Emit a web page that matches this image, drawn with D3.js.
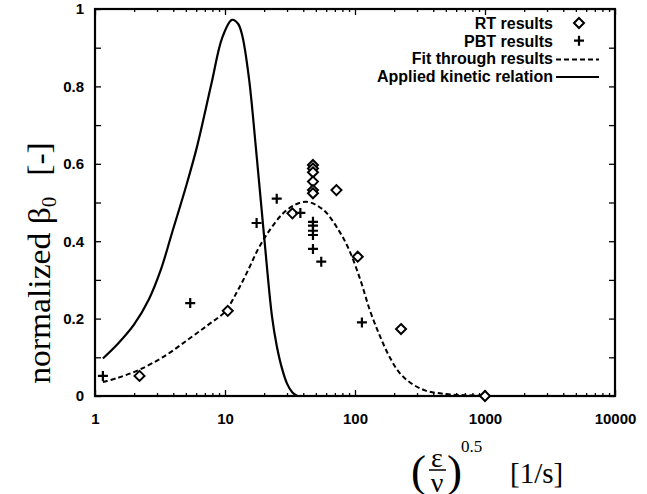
<!DOCTYPE html>
<html>
<head>
<meta charset="utf-8">
<script src="https://cdn.jsdelivr.net/npm/d3@7"></script>
<style>
  body { margin: 0; background: #fff; }
  svg { display: block; }
  .tick text { font-family: "Liberation Sans", Arial, sans-serif; font-weight: bold; font-size: 15px; }
</style>
</head>
<body>
<div id="chart"></div>
<script>
// RT results (diamonds)
const rtX = [2.2, 10.5, 33, 47.5, 47.5, 47.5, 47.5, 47.5, 47.5, 72, 105, 226, 1000];
const rtY = [0.052, 0.22, 0.472, 0.597, 0.588, 0.578, 0.554, 0.532, 0.524, 0.532, 0.36, 0.173, 0.0];

// PBT results (crosses)
const pbtX = [1.15, 5.4, 17.5, 25, 38, 47.5, 47.5, 47.5, 47.5, 47.5, 55, 113];
const pbtY = [0.052, 0.24, 0.447, 0.51, 0.473, 0.45, 0.44, 0.427, 0.416, 0.38, 0.347, 0.19];

// Fit through results (dashed)
const fitX = [1.15, 1.5, 2.2, 3.5, 5.3, 7.5, 10, 12.5, 15, 18, 22, 28, 35, 42, 50, 60, 75, 90, 110, 130, 155, 185, 220, 270, 350, 500, 700, 1000];
const fitY = [0.036, 0.047, 0.068, 0.105, 0.148, 0.185, 0.218, 0.272, 0.324, 0.38, 0.428, 0.472, 0.495, 0.502, 0.494, 0.474, 0.428, 0.378, 0.3, 0.222, 0.156, 0.1, 0.06, 0.033, 0.014, 0.005, 0.002, 0.001];

// Applied kinetic relation (solid)
const kinX = [1.15, 1.5, 2, 2.6, 3.2, 3.9, 5, 6.1, 7.9, 9.5, 11.3, 12.6, 13.6, 15.3, 17.3, 20, 23, 25, 27.4, 30, 33, 36];
const kinY = [0.097, 0.135, 0.185, 0.25, 0.325, 0.42, 0.54, 0.645, 0.81, 0.925, 0.972, 0.962, 0.93, 0.82, 0.64, 0.412, 0.205, 0.13, 0.072, 0.032, 0.009, 0.0];

const xTickLabels = [1, 10, 100, 1000, 10000];
const yTickLabels = [0, 0.2, 0.4, 0.6, 0.8, 1];
const legendLabels = ["RT results", "PBT results", "Fit through results", "Applied kinetic relation"];

const width = 647, height = 494;
const margin = { left: 95, top: 9, right: 32, bottom: 98 };
const innerW = width - margin.left - margin.right;
const innerH = height - margin.top - margin.bottom;

const svg = d3.select("#chart").append("svg")
    .attr("width", width)
    .attr("height", height);

const g = svg.append("g")
    .attr("transform", "translate(" + margin.left + "," + margin.top + ")");

const x = d3.scaleLog().domain([1, 10000]).range([0, innerW]);
const y = d3.scaleLinear().domain([0, 1]).range([innerH, 0]);

// minor ticks for log axis (2..9 of every decade)
let xMinor = [];
for (let dec = 1; dec < 10000; dec *= 10) {
    for (let k = 2; k < 10; k++) xMinor.push(dec * k);
}
let yMinor = d3.range(0, 1.01, 0.1);

const fmtY = d3.format("");

// bottom axis
g.append("g")
    .attr("transform", "translate(0," + innerH + ")")
    .call(d3.axisBottom(x).tickValues(xTickLabels).tickSize(-6).tickPadding(17).tickFormat(d3.format("d")))
    .call(a => a.select(".domain").remove());
g.append("g")
    .attr("transform", "translate(0," + innerH + ")")
    .call(d3.axisBottom(x).tickValues(xMinor).tickSize(-3).tickFormat(""))
    .call(a => a.select(".domain").remove());

// top axis
g.append("g")
    .call(d3.axisTop(x).tickValues(xTickLabels).tickSize(-6).tickFormat(""))
    .call(a => a.select(".domain").remove());
g.append("g")
    .call(d3.axisTop(x).tickValues(xMinor).tickSize(-3).tickFormat(""))
    .call(a => a.select(".domain").remove());

// left axis
g.append("g")
    .call(d3.axisLeft(y).tickValues(yTickLabels).tickSize(0).tickPadding(11).tickFormat(d => fmtY(+d.toFixed(1))))
    .call(a => a.select(".domain").remove());
g.append("g")
    .call(d3.axisLeft(y).tickValues(yMinor).tickSize(-6).tickFormat(""))
    .call(a => a.select(".domain").remove());

// right axis
g.append("g")
    .attr("transform", "translate(" + innerW + ",0)")
    .call(d3.axisRight(y).tickValues(yMinor).tickSize(-6).tickFormat(""))
    .call(a => a.select(".domain").remove());

g.selectAll(".tick line").attr("stroke", "#000").attr("stroke-width", 1.3);

// frame
g.append("rect")
    .attr("width", innerW)
    .attr("height", innerH)
    .attr("fill", "none")
    .attr("stroke", "#000")
    .attr("stroke-width", 2.2);

const line = d3.line()
    .x(d => x(d[0]))
    .y(d => y(d[1]))
    .curve(d3.curveCatmullRom.alpha(0.5));

// fit through results
g.append("path")
    .datum(d3.zip(fitX, fitY))
    .attr("d", line)
    .attr("fill", "none")
    .attr("stroke", "#000")
    .attr("stroke-width", 2)
    .attr("stroke-dasharray", "5,3");

// applied kinetic relation
g.append("path")
    .datum(d3.zip(kinX, kinY))
    .attr("d", line)
    .attr("fill", "none")
    .attr("stroke", "#000")
    .attr("stroke-width", 2.2);

const diamond = "M0,-5L5,0L0,5L-5,0Z";
const cross = "M-5,0H5M0,-5V5";

g.selectAll(".rt")
    .data(d3.zip(rtX, rtY))
    .enter().append("path")
    .attr("class", "rt")
    .attr("transform", d => "translate(" + x(d[0]) + "," + y(d[1]) + ")")
    .attr("d", diamond)
    .attr("fill", "#fff")
    .attr("stroke", "#000")
    .attr("stroke-width", 2);

g.selectAll(".pbt")
    .data(d3.zip(pbtX, pbtY))
    .enter().append("path")
    .attr("class", "pbt")
    .attr("transform", d => "translate(" + x(d[0]) + "," + y(d[1]) + ")")
    .attr("d", cross)
    .attr("fill", "none")
    .attr("stroke", "#000")
    .attr("stroke-width", 2.2);

// legend
const legend = g.append("g").attr("transform", "translate(" + (innerW - 60) + ",15)");
legendLabels.forEach(function (txt, i) {
    let row = legend.append("g").attr("transform", "translate(0," + (i * 17.7) + ")");
    row.append("text")
        .attr("x", -2)
        .attr("y", 5)
        .attr("text-anchor", "end")
        .attr("font-family", "Liberation Sans, Arial, sans-serif")
        .attr("font-weight", "bold")
        .attr("font-size", 16)
        .text(txt);
    if (i === 0) {
        row.append("path").attr("transform", "translate(24,-1)").attr("d", diamond)
            .attr("fill", "#fff").attr("stroke", "#000").attr("stroke-width", 2);
    } else if (i === 1) {
        row.append("path").attr("transform", "translate(24,-1)").attr("d", cross)
            .attr("fill", "none").attr("stroke", "#000").attr("stroke-width", 2.2);
    } else {
        row.append("line").attr("x1", 1).attr("x2", 44).attr("y1", 0).attr("y2", 0)
            .attr("stroke", "#000").attr("stroke-width", 2)
            .attr("stroke-dasharray", i === 2 ? "5,3" : null);
    }
});

// y label
svg.append("text")
    .attr("transform", "translate(50,263) rotate(-90) scale(1.05,1)")
    .attr("text-anchor", "middle")
    .attr("font-family", "Liberation Serif, Times New Roman, serif")
    .attr("font-size", 32)
    .html('normalized β<tspan font-size="20" dy="6">0</tspan><tspan dy="-6" dx="20">[-]</tspan>');

// x label
const xl = svg.append("g")
    .attr("font-family", "Liberation Serif, Times New Roman, serif");
xl.append("text").attr("x", 411).attr("y", 486).attr("font-size", 45).text("(");
xl.append("text").attr("x", 437).attr("y", 467).attr("text-anchor", "middle").attr("font-size", 28).text("ε");
xl.append("line").attr("x1", 429).attr("x2", 446).attr("y1", 470).attr("y2", 470).attr("stroke", "#000").attr("stroke-width", 1.5);
xl.append("text").attr("x", 437).attr("y", 492).attr("text-anchor", "middle").attr("font-size", 28).text("ν");
xl.append("text").attr("x", 447).attr("y", 486).attr("font-size", 45).text(")");
xl.append("text").attr("x", 461).attr("y", 452).attr("font-size", 17).text("0.5");
xl.append("text").attr("x", 510).attr("y", 483).attr("font-size", 29).text("[1/s]");
</script>
</body>
</html>
